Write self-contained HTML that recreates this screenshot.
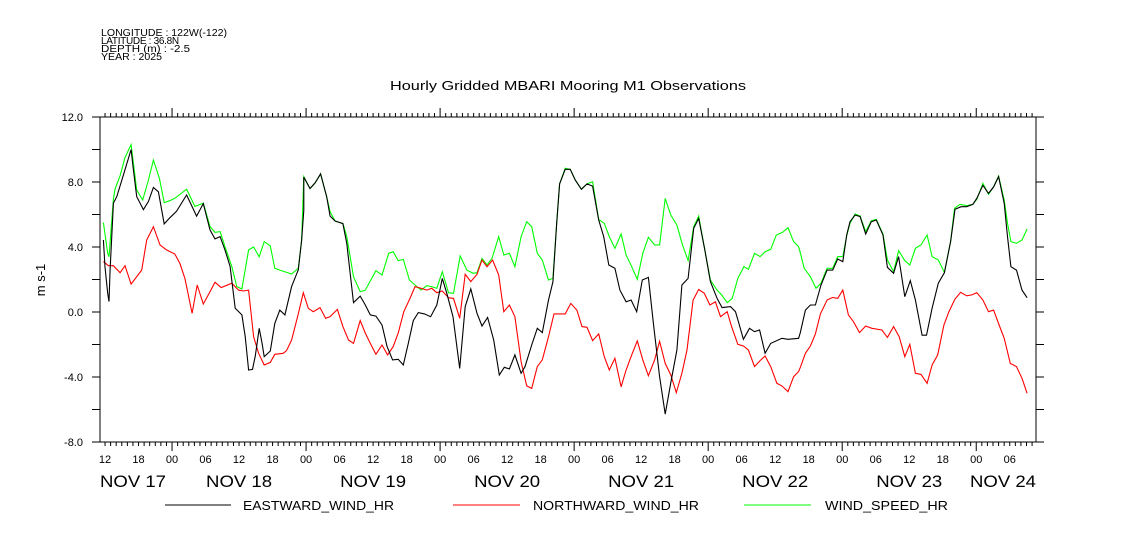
<!DOCTYPE html>
<html><head><meta charset="utf-8"><style>
body{margin:0;background:#fff;}
svg{display:block;font-family:"Liberation Sans",sans-serif;}
</style></head><body>
<svg id="chart" width="1121" height="560" viewBox="0 0 1121 560" xmlns="http://www.w3.org/2000/svg">
<rect width="1121" height="560" fill="#fff"/>
<g font-size="10" fill="#000">
<text x="101" y="36" textLength="126" lengthAdjust="spacingAndGlyphs">LONGITUDE : 122W(-122)</text>
<text x="101" y="44" letter-spacing="-0.3">LATITUDE : 36.8N</text>
<text x="101" y="52" textLength="89" lengthAdjust="spacingAndGlyphs">DEPTH (m) : -2.5</text>
<text x="101" y="60" textLength="61" lengthAdjust="spacingAndGlyphs">YEAR : 2025</text>
</g>
<text x="390" y="90" font-size="13" textLength="356" lengthAdjust="spacingAndGlyphs">Hourly Gridded MBARI Mooring M1 Observations</text>
<text x="45" y="280" font-size="13" text-anchor="middle" transform="rotate(-90 45 280)">m s-1</text>
<g id="axes"></g>
<g id="series"></g>
<g font-size="13">
<line x1="165" y1="505" x2="231" y2="505" stroke="#000"/>
<text x="243" y="510" textLength="151" lengthAdjust="spacingAndGlyphs">EASTWARD_WIND_HR</text>
<line x1="453" y1="505" x2="520" y2="505" stroke="#f00"/>
<text x="533" y="510" textLength="166" lengthAdjust="spacingAndGlyphs">NORTHWARD_WIND_HR</text>
<line x1="744" y1="505" x2="811" y2="505" stroke="#0f0"/>
<text x="825" y="510" textLength="123" lengthAdjust="spacingAndGlyphs">WIND_SPEED_HR</text>
</g>
</svg>
<script>
const yTicks=[12,10,8,6,4,2,0,-2,-4,-6,-8];
const yLabels=["12.0","8.0","4.0","0.0","-4.0","-8.0"];
const yLabelVals=[12,8,4,0,-4,-8];
const hourLabels=["12","18","00","06"];
const dayLabels=["NOV 17","NOV 18","NOV 19","NOV 20","NOV 21","NOV 22","NOV 23","NOV 24"];
const east=[[-0.3,4.43],[0,2.77],[0.48,1.15],[0.72,0.64],[0.9,2.6],[1.5,6.7],[2.1,7.1],[3.3,8.45],[4.66,10.0],[5.07,8.8],[5.67,7.1],[6.87,6.3],[7.76,6.8],[8.66,7.67],[9.55,7.4],[10.6,5.42],[11.6,5.8],[12.8,6.2],[14.6,7.2],[16.4,5.9],[17.6,6.67],[18.8,5.05],[19.7,4.5],[20.6,4.64],[21.5,3.8],[22.4,2.8],[23.3,0.23],[24.5,-0.18],[25.1,-1.5],[25.7,-3.57],[26.4,-3.53],[26.9,-2.7],[27.6,-1.0],[28.1,-1.9],[28.5,-2.75],[29.6,-2.4],[30.4,-0.7],[31.3,0.12],[32.2,-0.18],[33.4,1.56],[34.6,2.6],[35.2,4.4],[35.6,6.26],[35.6,8.3],[36.7,7.6],[37.6,7.94],[38.6,8.5],[39.7,7.08],
[40.3,5.9],[41.2,5.6],[42.6,5.44],[43.3,4.21],[44.5,0.57],[45.7,0.98],[46.6,0.43],[47.5,-0.18],[48.5,-0.25],[49.6,-0.8],[50.5,-2.13],[51.5,-2.95],[52.5,-2.91],[53.4,-3.26],[54.3,-1.93],[55.2,-0.53],[56.1,-0.04],[57.2,-0.12],[58.3,-0.29],[59.4,0.43],[60.4,2.07],[61.2,1.15],[62.3,-0.29],[63.5,-3.47],[64.5,0.33],[65.5,1.42],[66.6,-0.08],[67.5,-0.86],[68.5,-0.33],[69.6,-1.72],[70.6,-3.88],[71.5,-3.4],[72.4,-3.5],[73.4,-2.64],[74.5,-3.77],[75.2,-3.36],[76.4,-2.03],[77.4,-1.0],[78.3,-1.27],[79.4,0.74],[80.2,1.85],[80.9,5.56],[81.4,7.88],
[82.4,8.78],[83.3,8.78],[84.2,8.12],[85.3,7.55],[86.3,7.88],[87.3,7.75],[88.4,5.66],[89.3,4.64],[90.2,2.89],[91.3,2.69],[92.2,1.35],[93.3,0.63],[94.2,0.74],[95.2,0.02],[96.2,1.97],[97.3,2.13],[98.2,-0.7],[99.3,-3.98],[100.3,-6.28],[101.4,-4.18],[102.4,-2.34],[103.3,1.66],[104.4,2.07],[105.4,5.15],[106.3,5.76],[107.4,3.82],[108.4,1.87],[109.6,0.84],[110.5,0.27],[112.0,0.33],[112.9,0.02],[113.5,-0.7],[114.3,-1.68],[115.4,-1.0],[116.3,-1.21],[117.2,-1.11],[118.2,-2.54],[119.2,-1.93],[121.2,-1.62],[122.3,-1.68],[124.2,-1.62],
[124.5,-1.27],[125.4,0.12],[126.3,0.43],[127.2,0.43],[128.2,1.66],[129.3,2.58],[130.3,2.58],[131.2,3.26],[132.1,3.1],[132.8,4.74],[133.4,5.56],[134.3,5.97],[135.2,5.87],[136.2,4.8],[137.2,5.56],[138.1,5.66],[139.3,4.74],[140.1,2.75],[141.2,2.38],[142.1,3.41],[143.2,0.94],[144.2,1.93],[145.1,0.74],[146.3,-1.43],[147.1,-1.43],[148.1,0.23],[149.2,1.77],[150.3,2.42],[151.4,4.33],[152.2,6.32],[153.3,6.48],[154.3,6.48],[155.4,6.63],[156.1,7.0],[157.2,7.8],[158.2,7.3],[159.1,7.7],[160.0,8.33],[161.0,6.69],[161.6,4.64],[162.2,2.79],[163.2,2.58],[164.2,1.35],[165.1,0.88]];
const north=[[-0.3,3.1],[0.6,2.85],[1.5,2.85],[2.7,2.42],[3.58,2.85],[4.66,1.72],[6.57,2.58],[7.46,4.43],[8.66,5.25],[9.85,4.13],[11.0,3.82],[12.5,3.57],[13.4,2.99],[14.3,2.07],[15.6,-0.08],[16.5,1.66],[17.6,0.49],[18.5,1.05],[19.7,1.83],[20.8,1.5],[22.7,1.77],[23.9,1.35],[24.8,1.29],[25.7,1.35],[26.6,-1.52],[27.5,-2.54],[28.5,-3.26],[29.6,-3.1],[30.4,-2.6],[31.9,-2.54],[32.5,-2.38],[33.4,-1.72],[34.6,-0.12],[35.5,1.19],[36.4,0.23],[37.3,0.02],[38.5,0.27],[39.5,-0.39],
[40.3,-0.29],[41.6,0.16],[42.6,-0.9],[43.6,-1.72],[44.5,-1.93],[45.7,-0.53],[46.6,-1.3],[47.5,-1.93],[48.5,-2.6],[49.6,-2.03],[50.6,-2.64],[51.6,-2.13],[52.5,-1.3],[53.5,0.02],[54.6,0.84],[55.5,1.56],[56.6,1.46],[57.6,1.35],[58.5,1.46],[59.4,1.19],[60.4,1.29],[61.5,0.88],[62.4,0.84],[63.5,-0.39],[64.5,2.32],[65.5,1.87],[66.6,2.32],[67.5,3.2],[68.4,2.79],[69.4,3.2],[70.5,2.28],[71.4,0.02],[72.4,0.43],[73.4,-0.29],[74.5,-3.06],[75.5,-4.55],[76.4,-4.7],[77.4,-3.36],[78.3,-2.95],[79.4,-1.52],[80.4,-0.12],[81.4,-0.12],
[82.4,-0.12],[83.4,0.53],[84.5,0.12],[85.4,-0.9],[86.3,-0.94],[87.3,-1.76],[88.4,-1.35],[89.4,-2.75],[90.3,-3.57],[91.3,-2.85],[92.4,-4.6],[93.3,-3.57],[94.3,-2.64],[95.3,-1.78],[96.3,-2.95],[97.3,-3.92],[98.4,-2.95],[99.3,-1.8],[100.3,-3.16],[101.3,-3.88],[102.3,-4.96],[103.3,-3.77],[104.2,-2.34],[105.3,0.74],[106.3,1.39],[107.3,1.15],[108.3,0.43],[109.3,0.63],[110.2,-0.29],[111.4,0.02],[112.2,-0.9],[113.3,-1.99],[114.3,-2.09],[115.2,-2.34],[116.3,-3.36],[117.3,-2.99],[118.2,-2.71],[119.2,-3.36],[120.3,-4.39],[121.2,-4.55],[122.3,-4.9],[123.3,-3.98],[124.2,-3.67],
[124.5,-3.41],[125.4,-2.54],[126.3,-2.09],[127.2,-1.35],[128.1,-0.12],[129.3,0.74],[130.3,0.9],[131.2,0.84],[132.1,1.35],[133.1,-0.18],[134.0,-0.59],[135.1,-1.27],[136.2,-0.86],[137.3,-1.0],[139.1,-1.11],[140.1,-1.56],[141.2,-0.9],[142.2,-1.52],[143.2,-2.75],[144.1,-1.99],[145.1,-3.77],[146.1,-3.84],[147.2,-4.39],[148.1,-3.26],[149.1,-2.64],[150.2,-0.8],[151.1,0.02],[152.2,0.8],[153.2,1.21],[154.3,1.0],[155.2,1.05],[156.1,1.19],[157.2,0.74],[158.2,0.02],[159.1,0.12],[160.1,-0.8],[161.0,-1.62],[162.1,-3.16],[163.2,-3.36],[164.2,-4.08],[165.1,-5.0]];
const speed=[[-0.3,5.5],[0.48,3.61],[0.72,3.4],[1.5,6.95],[1.79,7.56],[2.7,8.39],[3.58,9.5],[4.66,10.3],[5.67,7.51],[6.75,6.89],[7.76,8.12],[8.66,9.35],[9.73,8.23],[10.6,6.73],[11.6,6.85],[12.5,7.0],[14.6,7.56],[16.1,6.5],[17.6,6.7],[18.8,5.26],[19.7,4.9],[20.6,4.95],[21.5,4.0],[22.7,2.8],[23.6,1.56],[24.5,1.42],[25.7,3.82],[26.6,4.0],[27.6,3.4],[28.5,4.33],[29.6,4.06],[30.4,2.69],[31.3,2.58],[33.4,2.34],[34.6,2.69],[35.2,4.4],[35.6,8.33],[36.7,7.6],[37.6,7.94],[38.6,8.5],[39.7,7.08],
[40.3,6.17],[41.2,5.6],[42.6,5.44],[43.3,4.64],[44.5,2.17],[45.7,1.25],[46.6,1.35],[48.5,2.54],[49.6,2.28],[50.8,3.61],[51.6,3.71],[52.5,3.16],[53.4,3.24],[54.5,1.97],[55.5,1.66],[56.6,1.35],[57.6,1.62],[58.5,1.56],[59.4,1.46],[60.4,2.48],[61.5,1.19],[62.4,1.15],[63.6,3.45],[64.8,2.58],[65.9,2.38],[66.6,2.42],[67.5,3.3],[68.4,2.89],[69.3,3.3],[70.5,4.64],[71.4,3.51],[72.4,3.61],[73.4,2.79],[74.5,4.64],[75.5,5.56],[76.4,5.25],[77.4,3.61],[78.3,3.2],[79.4,1.97],[80.2,2.07],[80.9,5.56],[81.4,7.88],
[82.4,8.84],[83.3,8.78],[84.2,8.12],[85.3,7.55],[86.3,7.88],[87.3,8.02],[88.4,5.7],[89.4,5.46],[90.3,4.64],[91.3,3.92],[92.4,4.8],[93.3,3.51],[94.3,2.79],[95.3,2.01],[96.3,3.61],[97.3,4.6],[98.4,4.13],[99.3,4.13],[100.3,6.99],[101.3,5.97],[102.4,5.35],[103.4,4.13],[104.4,3.16],[105.4,5.25],[106.3,5.91],[107.4,3.82],[108.4,1.97],[109.6,1.35],[110.4,1.05],[111.4,0.57],[112.3,0.84],[113.3,2.07],[114.4,2.79],[115.2,2.63],[116.3,3.61],[117.3,3.41],[118.2,3.71],[119.2,3.86],[120.2,4.74],[121.3,4.9],[122.3,5.19],[123.3,4.33],[124.2,4.02],
[124.5,3.65],[125.2,2.69],[126.3,2.17],[127.3,1.46],[128.2,1.77],[129.3,2.69],[130.3,2.69],[131.2,3.41],[132.1,3.41],[132.8,4.68],[133.4,5.46],[134.3,6.03],[135.2,5.91],[136.2,4.94],[137.2,5.62],[138.1,5.7],[139.3,4.8],[140.1,3.2],[141.2,2.48],[142.1,3.77],[143.2,3.16],[144.1,2.89],[145.1,3.92],[146.1,4.13],[147.2,4.74],[148.1,3.41],[149.2,3.2],[150.3,2.44],[151.4,4.33],[152.1,6.38],[153.1,6.63],[154.3,6.54],[155.4,6.63],[156.1,6.93],[157.2,7.92],[158.2,7.24],[159.1,7.71],[160.0,8.37],[161.0,6.89],[161.6,5.46],[162.2,4.33],[163.2,4.23],[164.2,4.43],[165.1,5.11]];

const NS="http://www.w3.org/2000/svg";
const L=100,R=1036,T=117,B=442;
const hStart=-0.9,hEnd=166.7;
function X(h){return L+(h-hStart)/(hEnd-hStart)*(R-L);}
function Y(v){return T+(12-v)/20*(B-T);}
function mk(tag,attrs,parent){const e=document.createElementNS(NS,tag);for(const k in attrs)e.setAttribute(k,attrs[k]);parent.appendChild(e);return e;}
const ax=document.getElementById('axes');
let frame=mk('rect',{x:L,y:T,width:R-L,height:B-T,fill:'none',stroke:'#000','stroke-width':1},ax);


let d='';
yTicks.forEach(v=>{const y=Y(v);d+=`M${L-8},${y}H${L}M${R},${y}H${R+8}`;});
for(let h=0;h<=166;h++){
  const x=X(h);const major=(h%24===12);const len=major?9:4;
  d+=`M${x},${T}V${T-len}M${x},${B}V${B+len}`;
}
let tk=mk('path',{d:d,stroke:'#000','stroke-width':1,fill:'none'},ax);


yLabelVals.forEach((v,i)=>{
  const t=mk('text',{x:83,y:Y(v)+4,'font-size':11,'text-anchor':'end'},ax);
  
  
  t.textContent=yLabels[i];
});
for(let i=0;i*6<=162;i++){
  const t=mk('text',{x:X(i*6),y:463,'font-size':11,'text-anchor':'middle'},ax);
  
  
  t.textContent=hourLabels[i%4];
}
dayLabels.forEach((s,i)=>{
  let cx=X(i*24);
  const t=mk('text',{x:cx,y:487,'font-size':17,'text-anchor':'middle',textLength:66,lengthAdjust:'spacingAndGlyphs'},ax);
  if(i===0){t.setAttribute('x',L);t.setAttribute('text-anchor','start');}
  if(i===dayLabels.length-1){t.setAttribute('x',R-66);t.setAttribute('text-anchor','start');}
  
  
  t.textContent=s;
});
const sg=document.getElementById('series');
function line(data,color,name){
  const p=mk('polyline',{points:data.map(a=>X(a[0]).toFixed(1)+','+Y(a[1]).toFixed(1)).join(' '),fill:'none',stroke:color,'stroke-width':1.1},sg);
  
  
}
line(speed,'#00ff00','wind-speed-line');
line(north,'#ff0000','northward-wind-line');
line(east,'#000000','eastward-wind-line');
</script>
</body></html>
